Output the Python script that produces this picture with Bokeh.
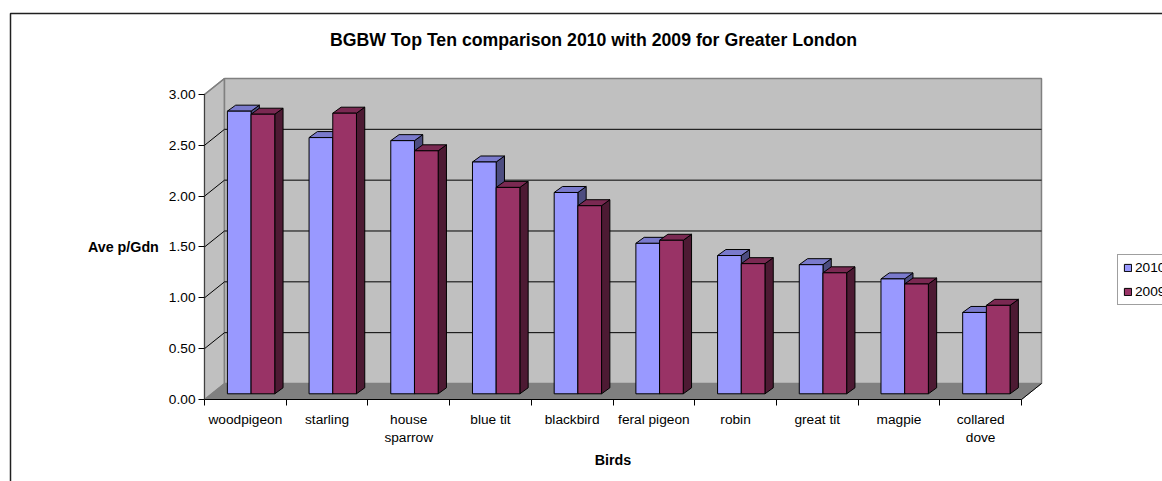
from bokeh.plotting import figure
from bokeh.models import (Range1d, LinearAxis, FixedTicker, Legend, LegendItem, BoxAnnotation)
from bokeh.core.properties import value
from bokeh.embed import file_html
from bokeh.resources import INLINE

birds = ["woodpigeon", "starling", "house\nsparrow", "blue tit", "blackbird",
         "feral pigeon", "robin", "great tit", "magpie", "collared\ndove"]
v2010 = [2.78, 2.52, 2.49, 2.28, 1.98, 1.48, 1.36, 1.27, 1.13, 0.80]
v2009 = [2.75, 2.76, 2.39, 2.03, 1.85, 1.51, 1.28, 1.19, 1.08, 0.87]
y_ticks = [0, 0.5, 1.0, 1.5, 2.0, 2.5, 3.0]
title_text = "BGBW Top Ten comparison 2010 with 2009 for Greater London"

FONT = "Liberation Sans"
PX_X, PX_Y = 81.7, 101.67
DX, DY = 20 / PX_X, 16 / PX_Y      # wall depth
BDX, BDY = 8.3 / PX_X, 6 / PX_Y    # bar depth
BASE = 5.7 / PX_Y
OFF, W = 0.28, 0.29
X0, Y0 = 204, 399                  # canvas position of the axes' origin

p = figure(width=1162, height=481, output_backend="svg", toolbar_location=None,
           x_range=Range1d(-X0 / PX_X, (1162 - X0) / PX_X), y_range=Range1d(-(481 - Y0) / PX_Y, Y0 / PX_Y),
           min_border=0, x_axis_type=None, y_axis_type=None, background_fill_color="white",
           outline_line_color=None)
p.grid.visible = False

p.text(x=[(593 - X0) / PX_X], y=[(Y0 - 39) / PX_Y], text=[title_text], text_align="center", text_baseline="middle",
       text_font=value(FONT), text_font_size="17.7px", text_font_style="bold", text_color="black")

# walls and floor
wall_right = 10 + DX
p.patches(xs=[[0, DX, DX, 0], [DX, wall_right, wall_right, DX]],
          ys=[[0, DY, 3 + DY, 3], [DY, DY, 3 + DY, 3 + DY]],
          fill_color="#c0c0c0", line_color="#808080", line_width=1.5)
p.patch(x=[0, 10, wall_right, DX], y=[0, 0, DY, DY], fill_color="#808080", line_color="#808080")
gl = y_ticks[1:-1]
p.segment(x0=[DX] * len(gl), y0=[t + DY for t in gl], x1=[wall_right] * len(gl), y1=[t + DY for t in gl],
          line_color="black", line_width=1)
p.segment(x0=[0] * len(gl), y0=gl, x1=[DX] * len(gl), y1=[t + DY for t in gl],
          line_color="black", line_width=1)
p.segment(x0=[10], y0=[0], x1=[wall_right], y1=[DY], line_color="black", line_width=1)
p.segment(x0=[0], y0=[3], x1=[DX], y1=[3 + DY], line_color="#808080", line_width=1.5)


def bars(values, start, face, top, side):
    lefts = [i + OFF + start * W for i in range(10)]
    rights = [l + W for l in lefts]
    tops = [BASE + v for v in values]
    p.patches(xs=[[r, r + BDX, r + BDX, r] for r in rights],
              ys=[[BASE, BASE + BDY, t + BDY, t] for t in tops],
              fill_color=side, line_color="black", line_width=1)
    p.patches(xs=[[l, r, r + BDX, l + BDX] for l, r in zip(lefts, rights)],
              ys=[[t, t, t + BDY, t + BDY] for t in tops],
              fill_color=top, line_color="black", line_width=1)
    return p.quad(left=lefts, right=rights, bottom=[BASE] * 10, top=tops,
                  fill_color=face, line_color="black", line_width=1)


r2010 = bars(v2010, 0, "#9999ff", "#7a7acc", "#4d4d80")
r2009 = bars(v2009, 1, "#993366", "#7a2952", "#4d1a33")

# axes
ya = LinearAxis(ticker=FixedTicker(ticks=y_ticks), bounds=(0, 3), fixed_location=0,
                axis_label="Ave p/Gdn", axis_label_orientation="horizontal",
                axis_label_text_font=FONT, axis_label_text_font_size="14.3px",
                axis_label_text_font_style="bold", axis_label_text_color="black",
                axis_label_standoff=7,
                major_label_overrides={t: f"{t:.2f}" for t in y_ticks},
                major_label_text_font=FONT, major_label_text_font_size="13.7px",
                major_label_text_color="black", major_label_standoff=3,
                major_tick_out=6, major_tick_in=0, minor_tick_line_color=None,
                axis_line_color="#404040", major_tick_line_color="black")
p.add_layout(ya, "left")

centers = [i + 0.5 for i in range(10)]
xa = LinearAxis(ticker=FixedTicker(ticks=centers, minor_ticks=list(range(11))), bounds=(0, 10), fixed_location=0,
                axis_label="Birds", axis_label_text_font=FONT, axis_label_text_font_size="14.3px",
                axis_label_text_font_style="bold", axis_label_text_color="black",
                axis_label_standoff=4,
                major_label_overrides={c: b for c, b in zip(centers, birds)},
                major_label_text_font=FONT, major_label_text_font_size="13.7px",
                major_label_text_color="black", major_label_standoff=6,
                major_tick_line_color=None, minor_tick_out=6, minor_tick_in=0,
                minor_tick_line_color="black", axis_line_color="black")
p.add_layout(xa, "below")

legend = Legend(items=[LegendItem(label="2010", renderers=[r2010]), LegendItem(label="2009", renderers=[r2009])],
                location=(1117, 176), orientation="vertical",
                label_text_font=FONT, label_text_font_size="13.7px", label_text_color="black",
                glyph_width=9, glyph_height=9, label_standoff=3, spacing=9,
                padding=5, margin=0, border_line_color="#404040", background_fill_alpha=1,
                label_height=14, label_width=40)
p.add_layout(legend, "center")

p.add_layout(BoxAnnotation(left=10, left_units="canvas", top=13, top_units="canvas",
                           right=1300, right_units="canvas", bottom=600, bottom_units="canvas",
                           fill_alpha=0, line_color="#202020", line_alpha=1, line_width=1.5, level="overlay"))

open("out.html", "w").write(file_html(p, INLINE))
